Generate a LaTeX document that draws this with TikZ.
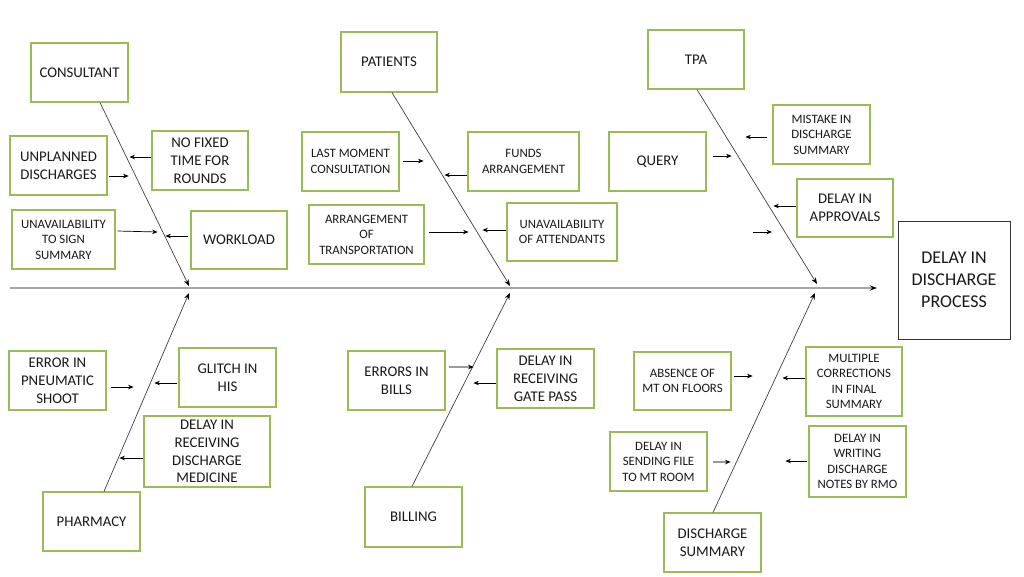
\documentclass[tikz,border=0pt]{standalone}
\usepackage{fontspec}
\setmainfont{Carlito}
\usetikzlibrary{arrows.meta}
\definecolor{boxgreen}{RGB}{155,187,89}
\begin{document}
\begin{tikzpicture}[x=1pt,y=-1pt,
 box/.style={draw=boxgreen, line width=1.2pt, fill=white, align=center, inner sep=1pt, text=black!90},
 sz/.style 2 args={minimum width=#1pt, minimum height=#2pt},
 med/.style={font=\fontsize{14.8}{18}\selectfont},
 sml/.style={font=\fontsize{12.8}{15.5}\selectfont},
 big/.style={font=\fontsize{18}{22}\selectfont},
 effbox/.style={draw=black!80, line width=1pt, align=center, inner sep=1pt, text=black!90},
 bone/.style={draw=black!75, line width=0.7pt, -{Stealth[black,length=6.5pt,width=5pt]}},
 sarr/.style={draw=black, line width=0.7pt, -{Stealth[length=5.5pt,width=4.5pt]}},
 garr/.style={draw=black!40, line width=1.2pt, -{Stealth[black,length=5.5pt,width=4.5pt]}},
 spine/.style={draw=black!35, line width=1.6pt, -{Stealth[black,length=7pt,width=5pt]}}
]
\useasboundingbox (0,0) rectangle (1024,576);

% spine
\coordinate (s0) at (10,288);
\coordinate (s1) at (877,288);
\draw[spine] (s0) -- (s1);

% bone junctions
\coordinate (jt1) at (189,286);
\coordinate (jt2) at (510,286);
\coordinate (jt3) at (817,284);
\coordinate (jb1) at (189,293);
\coordinate (jb2) at (510,293);
\coordinate (jb3) at (815,293);

% top boxes
\node[box,med,sz={97}{59}] (cons) at (79.5,72.5) {CONSULTANT};
\node[box,med,sz={97}{59}] (unpl) at (58.5,165.5) {UNPLANNED\\DISCHARGES};
\node[box,med,sz={96}{59}] (nofix) at (200,160.5) {NO FIXED\\TIME FOR\\ROUNDS};
\node[box,sml,sz={103}{59}] (unav) at (63.5,239.5) {UNAVAILABILITY\\TO SIGN\\SUMMARY};
\node[box,med,sz={96}{58}] (work) at (239,240) {WORKLOAD};

\node[box,med,sz={96}{60}] (pat) at (389,62) {PATIENTS};
\node[box,sml,sz={97}{59}] (last) at (350.5,161.5) {LAST MOMENT\\CONSULTATION};
\node[box,sml,sz={111}{59}] (funds) at (523.5,161.5) {FUNDS\\ARRANGEMENT};
\node[box,sml,sz={115}{59}] (arrT) at (366.5,234.5) {ARRANGEMENT\\OF\\TRANSPORTATION};
\node[box,sml,sz={110}{58}] (unatt) at (562,232) {UNAVAILABILITY\\OF ATTENDANTS};

\node[box,med,sz={96}{59}] (tpa) at (696,59.5) {TPA};
\node[box,sml,sz={97}{59}] (mist) at (821.5,134.5) {MISTAKE IN\\DISCHARGE\\SUMMARY};
\node[box,med,sz={97}{59}] (query) at (657.5,161.5) {QUERY};
\node[box,med,sz={96}{58}] (appr) at (845,208) {DELAY IN\\APPROVALS};

% effect
\node[effbox,big,sz={112}{118}] (eff) at (954,280) {DELAY IN\\DISCHARGE\\PROCESS};

% bottom boxes
\node[box,med,sz={97}{59}] (pneu) at (57.5,380.5) {ERROR IN\\PNEUMATIC\\SHOOT};
\node[box,med,sz={97}{59}] (glitch) at (227.5,377.5) {GLITCH IN\\HIS};
\node[box,med,sz={126}{71},font=\fontsize{14.8}{17.6}\selectfont] (medic) at (207,451.5) {DELAY IN\\RECEIVING\\DISCHARGE\\MEDICINE};
\node[box,med,sz={97}{59}] (pharm) at (91.5,521.5) {PHARMACY};

\node[box,med,sz={97}{59}] (bills) at (396.5,380.5) {ERRORS IN\\BILLS};
\node[box,med,sz={97}{59}] (gate) at (545.5,378.5) {DELAY IN\\RECEIVING\\GATE PASS};
\node[box,med,sz={97}{60}] (billing) at (413.5,517) {BILLING};

\node[box,sml,sz={97}{58}] (absence) at (682.5,381) {ABSENCE OF\\MT ON FLOORS};
\node[box,sml,sz={96}{69}] (multi) at (854,381.5) {MULTIPLE\\CORRECTIONS\\IN FINAL\\SUMMARY};
\node[box,sml,sz={97}{59}] (sending) at (658.5,461.5) {DELAY IN\\SENDING FILE\\TO MT ROOM};
\node[box,sml,sz={97}{71}] (rmo) at (857.5,461.5) {DELAY IN\\WRITING\\DISCHARGE\\NOTES BY RMO};
\node[box,med,sz={97}{59}] (ds) at (712.5,542.5) {DISCHARGE\\SUMMARY};

% bones
\draw[bone] ([xshift=20.5pt]cons.south) -- (jt1);
\draw[bone] ([xshift=3pt]pat.south) -- (jt2);
\draw[bone] ([xshift=1pt]tpa.south) -- (jt3);
\draw[bone] ([xshift=12.5pt]pharm.north) -- (jb1);
\draw[bone] ([xshift=-1.5pt]billing.north) -- (jb2);
\draw[bone] ([xshift=0.5pt]ds.north) -- (jb3);

% small arrows (top)
\draw[sarr] ([yshift=3.5pt]nofix.west) -- ++(-22,0);
\draw[sarr] ([xshift=1pt,yshift=-10.5pt]unpl.east) -- ++(20,0);
\draw[sarr] ([xshift=2pt,yshift=8.5pt]unav.east) -- ++(40,1);
\draw[sarr] ([xshift=-2pt,yshift=4pt]work.west) -- ++(-23,0);
\draw[sarr] ([xshift=3pt,yshift=0.5pt]last.east) -- ++(21,0);
\draw[sarr] ([yshift=-13.5pt]funds.west) -- ++(-23,0);
\draw[sarr] ([xshift=4pt,yshift=2.5pt]arrT.east) -- ++(40,0);
\draw[sarr] ([yshift=2pt]unatt.west) -- ++(-24,0);
\draw[sarr] ([xshift=-5pt,yshift=-2.5pt]mist.west) -- ++(-22,0);
\draw[sarr] ([xshift=6pt,yshift=5.5pt]query.east) -- ++(19,0);
\draw[sarr] ([yshift=2pt]appr.west) -- ++(-23,0);
\coordinate (stray) at (753,232);
\draw[sarr] (stray) -- ++(19,0);

% small arrows (bottom)
\draw[sarr] ([xshift=4pt,yshift=-6.5pt]pneu.east) -- ++(23,0);
\draw[sarr] ([xshift=-1pt,yshift=-5.5pt]glitch.west) -- ++(-23,0);
\draw[sarr] ([yshift=-6.5pt]medic.west) -- ++(-24,0);
\draw[garr] ([xshift=3pt,yshift=13.5pt]bills.east) -- ++(25,0);
\draw[sarr] ([yshift=-4.5pt]gate.west) -- ++(-23,0);
\draw[sarr] ([xshift=2pt,yshift=5pt]absence.east) -- ++(19,0);
\draw[sarr] ([yshift=3.5pt]multi.west) -- ++(-23,0);
\draw[garr] ([xshift=5pt,yshift=-0.5pt]sending.east) -- ++(18,0);
\draw[sarr] ([xshift=-1pt,yshift=0.5pt]rmo.west) -- ++(-22,0);
\end{tikzpicture}
\end{document}
